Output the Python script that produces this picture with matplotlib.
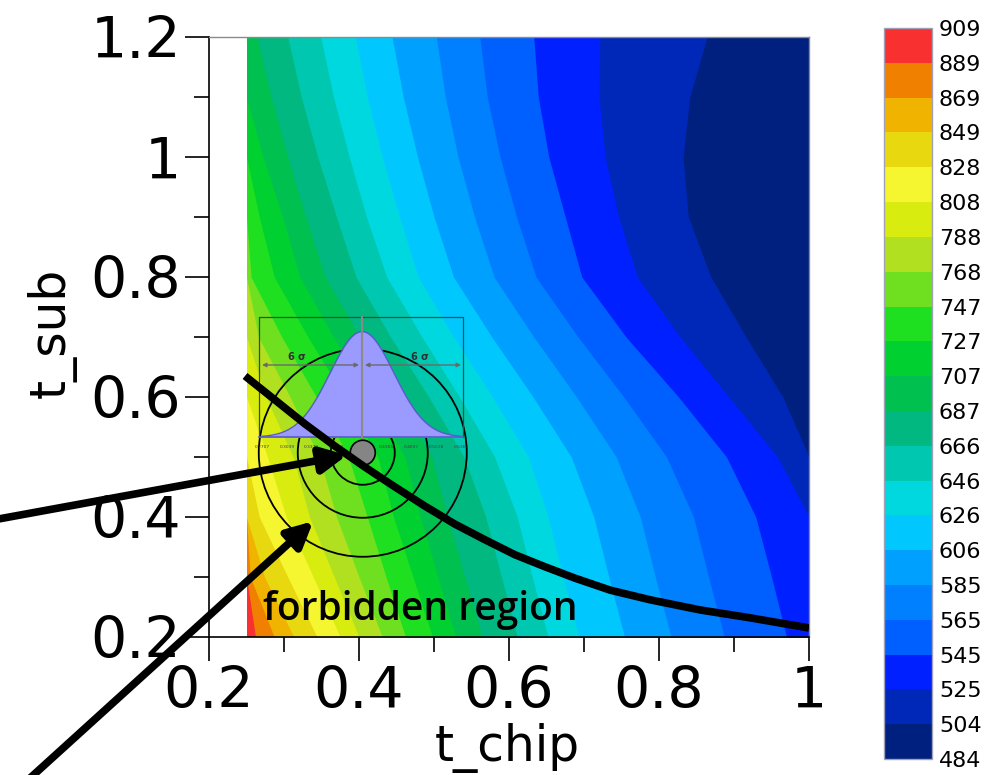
import numpy as np
import matplotlib
matplotlib.use("Agg")
import matplotlib.pyplot as plt
from matplotlib.colors import ListedColormap, BoundaryNorm
from matplotlib.cm import ScalarMappable
from matplotlib.patches import Ellipse

# colour levels of the temperature field (colorbar labels)
levels = [484, 504, 525, 545, 565, 585, 606, 626, 646, 666, 687,
          707, 727, 747, 768, 788, 808, 828, 849, 869, 889, 909]
band_colors = ['#002080', '#0028b8', '#0020ff', '#0060ff', '#0080ff',
               '#00a0ff', '#00c8ff', '#00d8e0', '#00c8b0', '#00b880',
               '#00c050', '#00d030', '#1ee020', '#6ee020', '#b0e020',
               '#d8ec10', '#f5f530', '#e8d810', '#f0b400', '#f08000',
               '#f83030']

# t_chip position where each level 504..889 crosses a row of constant t_sub
t_sub_rows = [0.2, 0.3, 0.4, 0.5, 0.6, 0.7, 0.8, 0.9, 1.0, 1.1, 1.2]
row_020 = [1.160, 1.060, 0.970, 0.887, 0.816, 0.754, 0.693, 0.652, 0.611, 0.564, 0.529, 0.498, 0.462, 0.431, 0.400, 0.375, 0.344, 0.313, 0.287, 0.262]
row_030 = [1.130, 1.035, 0.950, 0.866, 0.795, 0.733, 0.672, 0.631, 0.590, 0.541, 0.505, 0.472, 0.436, 0.400, 0.367, 0.339, 0.305, 0.274, 0.255, 0.235]
row_040 = [1.100, 1.010, 0.929, 0.846, 0.775, 0.713, 0.652, 0.611, 0.569, 0.518, 0.482, 0.446, 0.411, 0.370, 0.334, 0.303, 0.267, 0.236, 0.215, 0.195]
row_050 = [1.026, 0.958, 0.890, 0.810, 0.743, 0.683, 0.626, 0.581, 0.540, 0.497, 0.461, 0.425, 0.386, 0.347, 0.312, 0.278, 0.247, 0.217, 0.197, 0.177]
row_060 = [0.965, 0.893, 0.826, 0.753, 0.690, 0.632, 0.578, 0.534, 0.493, 0.452, 0.416, 0.381, 0.343, 0.308, 0.276, 0.246, 0.219, 0.193, 0.173, 0.153]
row_070 = [0.916, 0.828, 0.756, 0.692, 0.633, 0.577, 0.526, 0.484, 0.442, 0.401, 0.366, 0.332, 0.297, 0.266, 0.238, 0.214, 0.191, 0.168, 0.148, 0.128]
row_080 = [0.869, 0.771, 0.697, 0.636, 0.580, 0.526, 0.479, 0.437, 0.396, 0.355, 0.321, 0.287, 0.256, 0.228, 0.203, 0.182, 0.162, 0.142, 0.122, 0.102]
row_090 = [0.839, 0.746, 0.675, 0.610, 0.554, 0.500, 0.454, 0.410, 0.370, 0.329, 0.298, 0.267, 0.238, 0.210, 0.185, 0.160, 0.140, 0.120, 0.100, 0.080]
row_100 = [0.832, 0.728, 0.653, 0.588, 0.532, 0.478, 0.431, 0.387, 0.345, 0.305, 0.272, 0.243, 0.216, 0.190, 0.168, 0.146, 0.126, 0.106, 0.086, 0.066]
row_110 = [0.841, 0.720, 0.639, 0.571, 0.515, 0.459, 0.411, 0.366, 0.323, 0.283, 0.250, 0.222, 0.196, 0.173, 0.153, 0.133, 0.113, 0.093, 0.073, 0.053]
row_120 = [0.864, 0.721, 0.633, 0.561, 0.503, 0.444, 0.395, 0.349, 0.305, 0.264, 0.232, 0.205, 0.180, 0.160, 0.140, 0.120, 0.100, 0.080, 0.060, 0.040]
crossings = [row_020, row_030, row_040, row_050, row_060, row_070,
             row_080, row_090, row_100, row_110, row_120]

# thick black boundary curve (forbidden region below it)
curve_x = [0.248, 0.288, 0.328, 0.368, 0.408, 0.448, 0.488, 0.528, 0.568,
           0.608, 0.648, 0.688, 0.735, 0.788, 0.855, 0.921, 1.0]
curve_y = [0.635, 0.595, 0.555, 0.518, 0.483, 0.450, 0.418, 0.388, 0.362,
           0.337, 0.317, 0.298, 0.278, 0.262, 0.245, 0.232, 0.215]

# design point and the uncertainty sketch around it
point_x, point_y = 0.405, 0.507
circle_radii_px = [32, 65, 104]
gauss_mu, gauss_sigma = 0.404, 0.0427
gauss_base, gauss_height = 0.533, 0.176
gauss_left, gauss_right = 0.2707, 0.536
box_left, box_right, box_top = 0.2667, 0.5387, 0.7333

x_min, x_max, y_min, y_max = 0.2, 1.0, 0.2, 1.2
field_left = 0.25

fig = plt.figure(figsize=(10.01, 7.75), dpi=100)
ax = fig.add_axes([0.2088, 0.1781, 0.5994, 0.7742])
ax.set_xlim(x_min, x_max)
ax.set_ylim(y_min, y_max)

# filled bands: paint highest band, then every level boundary to the right edge
ax.fill_betweenx(t_sub_rows, field_left, x_max, color=band_colors[-1], lw=0, zorder=1)
for k in range(len(levels) - 2, 0, -1):
    xs = np.clip([row[k - 1] for row in crossings], field_left, x_max)
    ax.fill_betweenx(t_sub_rows, xs, x_max, color=band_colors[k - 1], lw=0, zorder=1)

# px -> data scale of the axes
sx = (x_max - x_min) / 600.0
sy = (y_max - y_min) / 600.0

for r in circle_radii_px:
    ax.add_patch(Ellipse((point_x, point_y), 2 * r * sx, 2 * r * sy, fill=False,
                         ec='black', lw=1.3, zorder=3))

# gaussian inset
gx = np.linspace(gauss_left, gauss_right, 300)
gy = gauss_base + gauss_height * np.exp(-0.5 * ((gx - gauss_mu) / gauss_sigma) ** 2)
ax.fill_between(gx, gauss_base, gy, color='#9a9aff', lw=0, zorder=4)
ax.plot(gx, gy, color='#5a5ad0', lw=1.0, zorder=4)
ax.plot([box_left, box_left, box_right, box_right],
        [gauss_base, box_top, box_top, gauss_base], color='#3a4a3a', lw=0.9, zorder=4)
ax.plot([box_left, box_right], [gauss_base, gauss_base], color='#5a5ad0', lw=1.2, zorder=4)
ax.plot([gauss_mu, gauss_mu], [gauss_base - 0.016, box_top], color='#8a8a8a', lw=1.5, zorder=4)
sig_y = 0.6533
for a, b in [(gauss_left, gauss_mu - 0.004), (gauss_mu + 0.004, gauss_right)]:
    ax.annotate('', xy=(a, sig_y), xytext=(b, sig_y),
                arrowprops=dict(arrowstyle='<|-|>', color='#6a6a6a', lw=1.0,
                                mutation_scale=6, shrinkA=0, shrinkB=0), zorder=4)
ax.text(0.3173, 0.6667, '6 σ', fontsize=7, fontweight='bold', color='#303030',
        ha='center', va='center', zorder=4)
ax.text(0.4813, 0.6667, '6 σ', fontsize=7, fontweight='bold', color='#303030',
        ha='center', va='center', zorder=4)
for v in np.linspace(gauss_left, gauss_right, 9):
    ax.text(v, gauss_base - 0.016, f'{v:.4f}', fontsize=3.2, color='#404040',
            ha='center', va='center', zorder=4)

ax.add_patch(Ellipse((point_x, point_y), 25 * sx, 25 * sy, fc='#858585',
                     ec='black', lw=1.2, zorder=5))

# boundary curve and arrows
ax.plot(curve_x, curve_y, color='black', lw=5.5, solid_capstyle='butt',
        solid_joinstyle='round', zorder=6)
ax.annotate('', xy=(0.384, 0.503), xytext=(-0.079, 0.397), xycoords='data',
            arrowprops=dict(arrowstyle='-|>', color='black', lw=5.5,
                            mutation_scale=38, shrinkA=0, shrinkB=0),
            annotation_clip=False, zorder=7)
ax.annotate('', xy=(0.339, 0.393), xytext=(-0.049, -0.047), xycoords='data',
            arrowprops=dict(arrowstyle='-|>', color='black', lw=5.5,
                            mutation_scale=38, shrinkA=0, shrinkB=0),
            annotation_clip=False, zorder=7)

ax.text(0.272, 0.228, 'forbidden region', fontsize=28, family='Open Sans',
        fontweight='semibold', color='black', ha='left', va='baseline', zorder=6)

# axes styling
for side in ['top', 'right']:
    ax.spines[side].set_color('#8a8a8a')
    ax.spines[side].set_linewidth(1.0)
for side in ['left', 'bottom']:
    ax.spines[side].set_color('black')
    ax.spines[side].set_linewidth(1.2)
ax.set_xticks([0.2, 0.4, 0.6, 0.8, 1.0])
ax.set_xticklabels(['0.2', '0.4', '0.6', '0.8', '1'])
ax.set_yticks([0.2, 0.4, 0.6, 0.8, 1.0, 1.2])
ax.set_yticklabels(['0.2', '0.4', '0.6', '0.8', '1', '1.2'])
ax.set_xticks([0.3, 0.5, 0.7, 0.9], minor=True)
ax.set_yticks([0.3, 0.5, 0.7, 0.9, 1.1], minor=True)
ax.tick_params(which='major', direction='out', length=17, width=1.2, labelsize=41, pad=3)
ax.tick_params(which='minor', direction='out', length=11, width=1.2)
ax.tick_params(top=False, right=False, which='both')

ax.set_xlabel('t_chip', fontsize=35)
ax.xaxis.set_label_coords(0.498, -0.143)
ax.set_ylabel('t_sub', fontsize=35)
ax.yaxis.set_label_coords(-0.22, 0.507)

# colorbar
cax = fig.add_axes([0.8831, 0.0206, 0.048, 0.9432])
cmap = ListedColormap(band_colors)
norm = BoundaryNorm(levels, cmap.N)
cb = fig.colorbar(ScalarMappable(norm=norm, cmap=cmap), cax=cax,
                  ticks=levels, spacing='uniform')
cb.ax.tick_params(length=0, labelsize=16, pad=5)
cb.outline.set_edgecolor('#a0a0b8')
cb.outline.set_linewidth(1.0)

fig.savefig('out.png', dpi=100)
